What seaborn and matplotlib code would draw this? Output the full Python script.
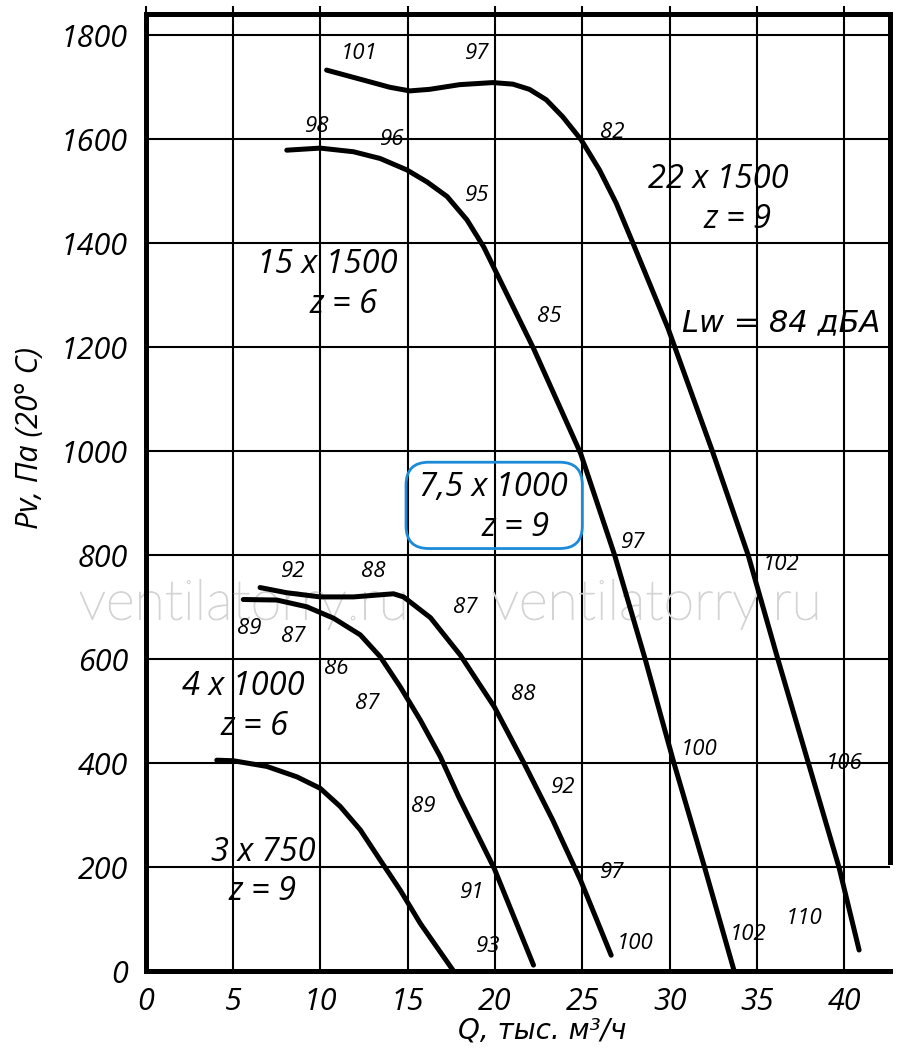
import matplotlib
matplotlib.use("Agg")
import matplotlib.pyplot as plt
import matplotlib.patheffects as pe
from matplotlib.patches import FancyBboxPatch
import seaborn as sns
import pandas as pd

# fan curves: Q (thousand m3/h) and Pv (Pa)
q_3x750 = [4.06, 5.0, 6.93, 8.65, 9.98, 11.13, 12.28, 13.42, 14.57, 15.72, 17.8]
p_3x750 = [406, 405, 394, 374, 352, 317, 272, 214, 156, 92, -8]

q_4x1000 = [5.58, 7.5, 9.22, 10.75, 12.28, 13.42, 14.57, 15.72, 16.86, 17.91,
            19.95, 22.2]
p_4x1000 = [715, 714, 701, 679, 647, 605, 547, 483, 413, 336,
            198, 12]

q_7x1000 = [6.54, 8.07, 9.98, 11.89, 14.18, 14.76, 16.3, 18.01, 19.95, 21.6,
            23.3, 24.9, 26.65]
p_7x1000 = [738, 728, 720, 720, 726, 720, 680, 608, 509, 404,
            291, 175, 31]

q_15x1500 = [8.07, 9.98, 11.89, 13.42, 14.95, 16.1, 17.25, 18.39, 19.35,
             22.2, 24.9, 26.85, 28.6, 30.25, 32.0, 33.7]
p_15x1500 = [1579, 1583, 1576, 1563, 1541, 1518, 1490, 1445, 1393,
             1198, 996, 800, 600, 400, 200, 0]

q_22x1500 = [10.35, 12.44, 13.97, 15.11, 16.25, 17.97, 19.87, 21.02, 21.97, 22.93,
             23.88, 24.93, 25.98, 26.94, 27.9, 29.9, 32.45, 34.5, 36.2, 37.95,
             39.7, 40.85]
p_22x1500 = [1733, 1714, 1700, 1693, 1696, 1705, 1709, 1706, 1696, 1676,
             1643, 1599, 1541, 1477, 1400, 1237, 1000, 800, 600, 400,
             200, 41]

x_ticks = [0, 5, 10, 15, 20, 25, 30, 35, 40]
y_ticks = [0, 200, 400, 600, 800, 1000, 1200, 1400, 1600, 1800]

# sound power numbers along the curves
small_labels = [
    ("101", 12.2, 1765), ("97", 19.0, 1765), ("98", 9.8, 1625), ("96", 14.1, 1600),
    ("82", 26.7, 1613), ("95", 19.0, 1492), ("85", 23.1, 1260), ("97", 27.9, 825),
    ("102", 36.4, 783), ("92", 8.45, 769), ("88", 13.0, 769), ("87", 18.3, 700),
    ("89", 5.9, 660), ("87", 8.45, 644), ("86", 10.9, 583), ("88", 21.6, 533),
    ("87", 12.7, 515), ("100", 31.7, 427), ("106", 40.0, 400), ("92", 23.9, 354),
    ("89", 15.9, 317), ("97", 26.7, 190), ("91", 18.7, 152), ("110", 37.7, 102),
    ("102", 34.5, 71), ("100", 28.0, 54), ("93", 19.6, 48),
]
big_labels = [
    ("22 x 1500", 32.8, 1523), ("z = 9", 33.9, 1446),
    ("15 x 1500", 10.4, 1360), ("z = 6", 11.3, 1283),
    ("7,5 x 1000", 19.9, 931), ("z = 9", 21.2, 854),
    ("4 x 1000", 5.6, 548), ("z = 6", 6.2, 471),
    ("3 x 750", 6.7, 229), ("z = 9", 6.7, 154),
]

curves = {
    "3x750": (q_3x750, p_3x750),
    "4x1000": (q_4x1000, p_4x1000),
    "7.5x1000": (q_7x1000, p_7x1000),
    "15x1500": (q_15x1500, p_15x1500),
    "22x1500": (q_22x1500, p_22x1500),
}
df = pd.concat(
    [pd.DataFrame({"Q": q, "Pv": p, "fan": name}) for name, (q, p) in curves.items()],
    ignore_index=True,
)

sns.set_theme(style="white")
plt.rcParams["font.family"] = ["Open Sans", "DejaVu Sans"]
plt.rcParams["font.style"] = "italic"
plt.rcParams["text.color"] = "black"
plt.rcParams["xtick.color"] = "black"
plt.rcParams["ytick.color"] = "black"

fig = plt.figure(figsize=(9, 10.55), dpi=100)
ax = fig.add_axes([0.1621, 0.0793, 0.8264, 0.907])

sns.lineplot(data=df, x="Q", y="Pv", hue="fan", palette={k: "black" for k in curves},
             estimator=None, sort=False, linewidth=3.6, legend=False, ax=ax,
             solid_capstyle="round", solid_joinstyle="round")

ax.set_xlim(0, 42.6)
ax.set_ylim(0, 1840)
ax.set_xticks(x_ticks)
ax.set_yticks(y_ticks)
ax.set_xticklabels([str(v) for v in x_ticks], fontsize=22)
ax.set_yticklabels([str(v) for v in y_ticks], fontsize=22)
ax.grid(True, color="black", linewidth=1.5)
ax.set_axisbelow(True)
ax.tick_params(axis="both", direction="out", length=8, width=1.5, color="black", pad=5)
ax.tick_params(axis="x", top=True, length=6)
for side in ["left", "bottom", "top", "right"]:
    ax.spines[side].set_color("black")
    ax.spines[side].set_linewidth(3.6)
ax.spines["right"].set_bounds(210, 1840)
ax.set_xlabel("")
ax.set_ylabel("")

cyr = dict(family="DejaVu Sans", style="oblique")
fig.text(30 / 900, 1 - 438 / 1055, "Pv, Па (20° C)", rotation=90, fontsize=22,
         ha="center", va="center")
fig.text(542 / 900, 1 - 1030 / 1055, "Q, тыс. м³/ч", fontsize=20,
         ha="center", va="center", **cyr)

for txt, x, y in small_labels:
    ax.text(x, y, txt, fontsize=16, ha="center", va="center")
for txt, x, y in big_labels:
    ax.text(x, y, txt, fontsize=23.5, ha="center", va="center")
ax.text(36.4, 1248, "Lw = 84 дБА", fontsize=22, ha="center", va="center", **cyr)

# rounded blue frame round the 7,5 x 1000 label
box = FancyBboxPatch((14.9, 813), 10.1, 166, boxstyle="round,pad=0,rounding_size=1.3",
                     mutation_aspect=33.5, facecolor="none", edgecolor="#1b8ad8",
                     linewidth=2.0, zorder=5)
ax.add_patch(box)

# watermark
for wx in [15.05, 38.7]:
    ax.text(wx, 706, "ventilatorry.ru", fontsize=40, style="normal", family="Lato",
            weight="light", ha="right", va="center", color=(1, 1, 1, 0),
            path_effects=[pe.withStroke(linewidth=0.8, foreground="#d4d4d4")], zorder=1)

fig.savefig("out.png", dpi=100)
